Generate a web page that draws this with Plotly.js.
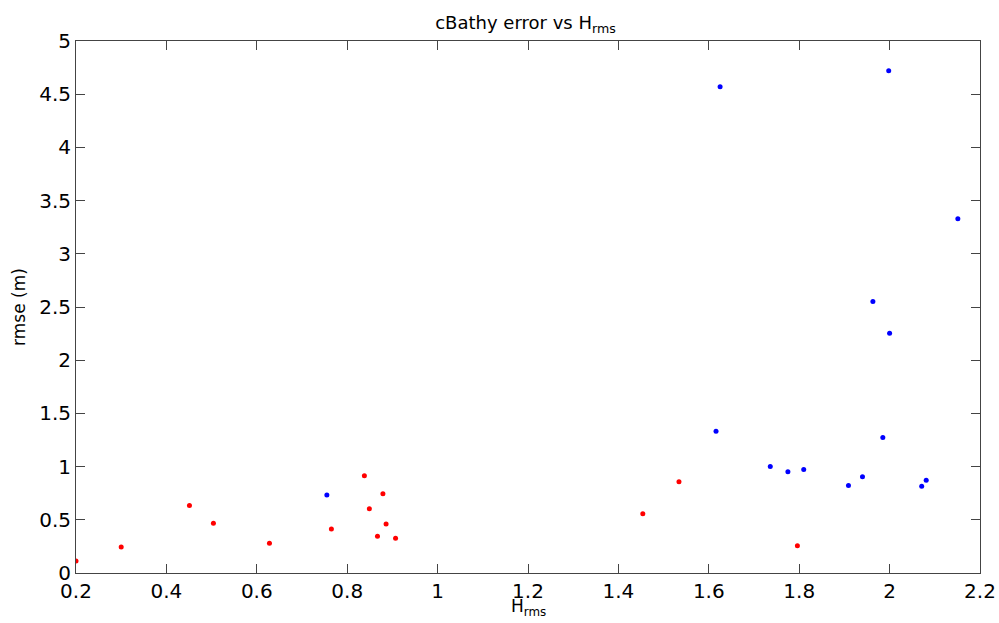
<!DOCTYPE html>
<html>
<head>
<meta charset="utf-8">
<script src="https://cdn.plot.ly/plotly-3.0.1.min.js"></script>
<style>html,body{margin:0;padding:0;background:#fff;}#plot{width:999px;height:623px;}</style>
</head>
<body>
<div id="plot"></div>
<script>
// Red series (Hrms, rmse)
const redHrms = [0.20, 0.30, 0.451, 0.504, 0.628, 0.765, 0.838, 0.849, 0.867, 0.879, 0.886, 0.907, 1.454, 1.534, 1.796];
const redRmse = [0.113, 0.245, 0.634, 0.467, 0.279, 0.414, 0.913, 0.605, 0.345, 0.744, 0.461, 0.326, 0.556, 0.857, 0.257];
// Blue series (Hrms, rmse)
const blueHrms = [0.755, 1.616, 1.625, 1.736, 1.775, 1.810, 1.909, 1.940, 1.963, 1.985, 1.998, 2.000, 2.071, 2.081, 2.151];
const blueRmse = [0.734, 1.333, 4.570, 1.001, 0.951, 0.973, 0.822, 0.904, 2.552, 1.274, 4.720, 2.253, 0.815, 0.872, 3.330];
const xTicks = [0.2, 0.4, 0.6, 0.8, 1, 1.2, 1.4, 1.6, 1.8, 2, 2.2];
const xTickText = ['0.2', '0.4', '0.6', '0.8', '1', '1.2', '1.4', '1.6', '1.8', '2', '2.2'];
const yTicks = [0, 0.5, 1, 1.5, 2, 2.5, 3, 3.5, 4, 4.5, 5];
const yTickText = ['0', '0.5', '1', '1.5', '2', '2.5', '3', '3.5', '4', '4.5', '5'];

const FONT = 'DejaVu Sans, Liberation Sans, Arial, sans-serif';

const traces = [
  {x: redHrms, y: redRmse, mode: 'markers', type: 'scatter', name: 'red',
   marker: {color: '#ff0000', size: 5, symbol: 'circle'}},
  {x: blueHrms, y: blueRmse, mode: 'markers', type: 'scatter', name: 'blue',
   marker: {color: '#0000ff', size: 5, symbol: 'circle'}}
];

const axisCommon = {
  showgrid: false, zeroline: false, showline: true, mirror: 'allticks',
  linecolor: '#444', linewidth: 1, ticks: 'inside', ticklen: 9, tickwidth: 1, tickcolor: '#444',
  tickfont: {family: FONT, size: 20, color: '#000'}
};

const layout = {
  width: 999, height: 623,
  paper_bgcolor: '#fff', plot_bgcolor: '#fff',
  showlegend: false,
  margin: {l: 76, r: 19, t: 41, b: 50},
  title: {text: 'cBathy error vs H<sub>rms</sub>', x: 0.526, xanchor: 'center', y: 0.963, yanchor: 'middle',
          font: {family: FONT, size: 18, color: '#000'}},
  xaxis: Object.assign({}, axisCommon, {
    range: [0.2, 2.2], tickvals: xTicks, ticktext: xTickText
  }),
  yaxis: Object.assign({}, axisCommon, {
    range: [0, 5], tickvals: yTicks, ticktext: yTickText,
    title: {text: 'rmse (m)', standoff: 9, font: {family: FONT, size: 17, color: '#000'}}
  }),
  annotations: [{
    text: 'H<sub>rms</sub>', xref: 'paper', yref: 'paper', x: 0.5, y: -0.09,
    xanchor: 'center', yanchor: 'bottom', showarrow: false,
    font: {family: FONT, size: 17, color: '#000'}
  }]
};

Plotly.newPlot('plot', traces, layout, {displayModeBar: false, staticPlot: true});
</script>
</body>
</html>
